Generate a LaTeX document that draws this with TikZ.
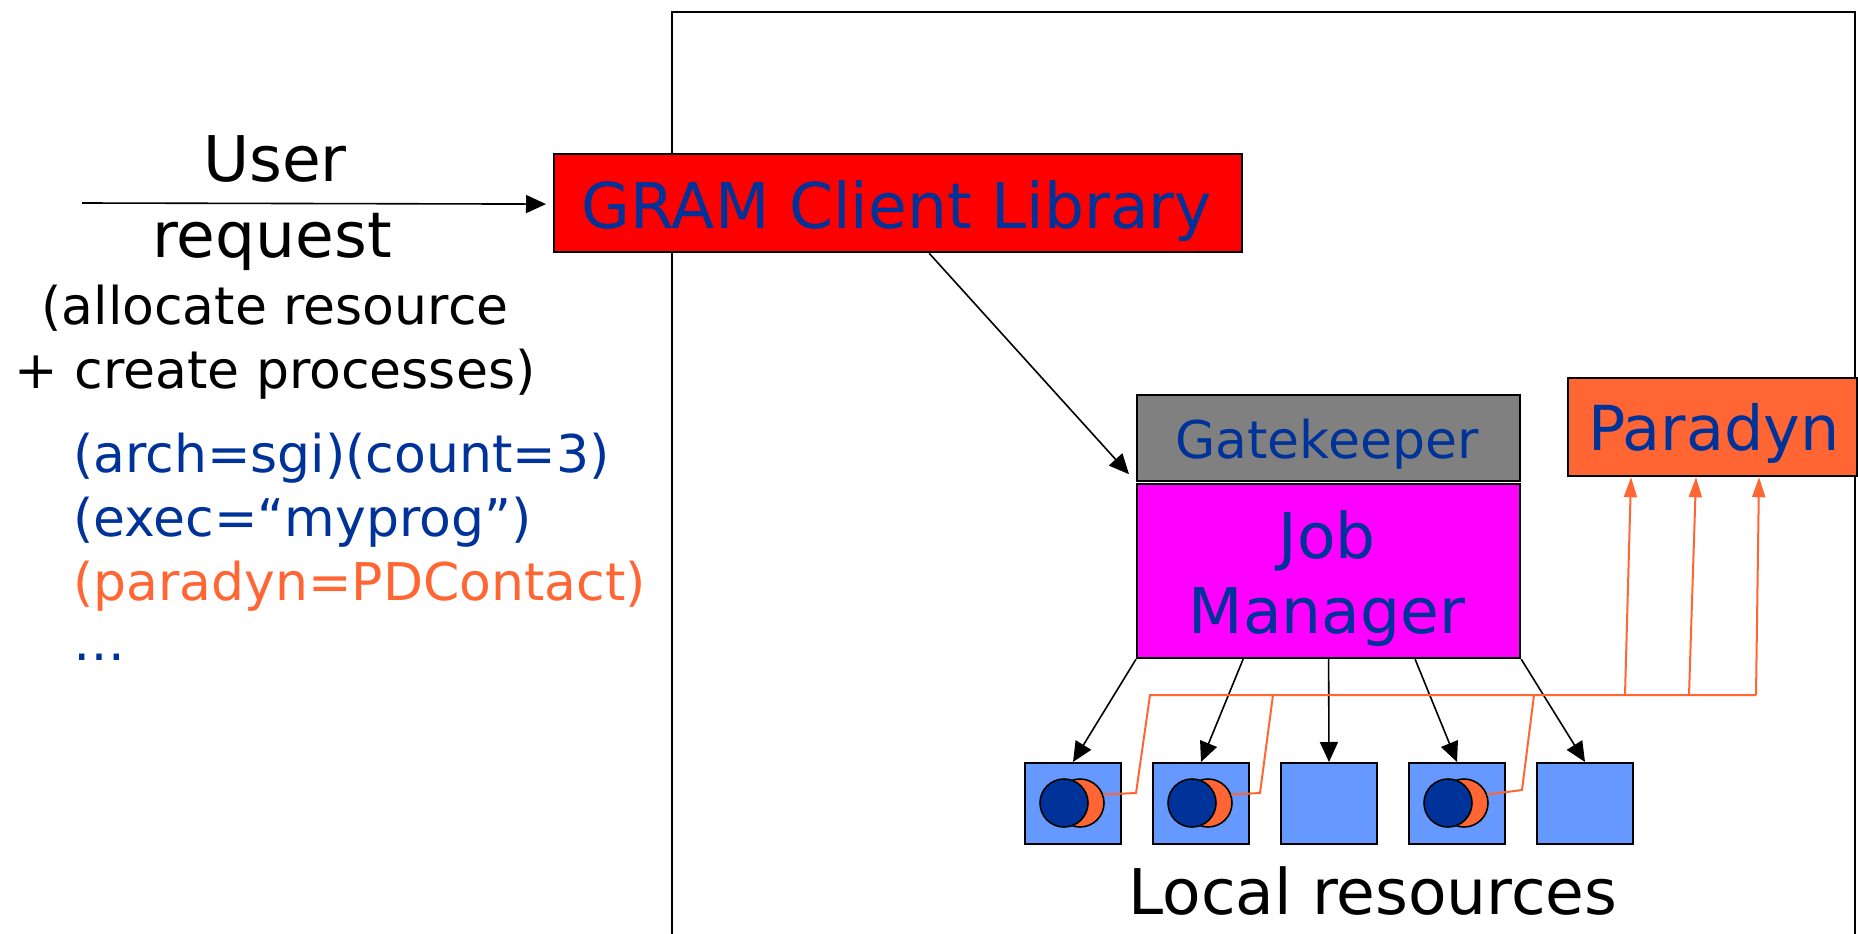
\documentclass[tikz,border=0pt]{standalone}
\usepackage{fontspec}
\setmainfont{DejaVu Sans}
\usetikzlibrary{arrows.meta,calc}
\definecolor{tblue}{HTML}{003399}
\definecolor{porange}{HTML}{FF6633}
\definecolor{sqblue}{HTML}{6699FF}
\definecolor{gkgray}{HTML}{808080}
\definecolor{jmmag}{HTML}{FF00FF}
\begin{document}
\begin{tikzpicture}[x=1pt,y=-1pt,
  box/.style={draw=black, line width=2.2pt, inner sep=0pt, anchor=north west},
  big/.style={font=\fontsize{63}{75}\selectfont, inner sep=0pt, anchor=base},
  mid/.style={font=\fontsize{52}{62}\selectfont, inner sep=0pt, anchor=base},
  conn/.style={line width=1.6pt, -{Triangle[length=20pt,width=18pt]}},
  pconn/.style={draw=porange, line width=2pt},
  parr/.style={pconn, -{Triangle[length=20pt,width=13pt]}},
  res/.style={box, fill=sqblue, line width=2pt, minimum width=96pt, minimum height=81pt},
  proc/.style={circle, draw=black, line width=1.6pt, minimum size=48pt, inner sep=0pt},
]
\useasboundingbox (0,0) rectangle (1858,934);
\fill[white] (0,0) rectangle (1858,934);
% enclosing site frame
\draw[line width=2pt] (672,934) -- (672,12) -- (1855,12) -- (1855,934);

% left request text
\node[big] (user) at (275,181) {User};
\node[big] (req) at (272,257) {request};
\node[mid] (alloc) at (275,324) {(allocate resource};
\node[mid] (create) at (275,388) {+ create processes)};
\node[mid, anchor=base west, text=tblue] (arch) at (73,472) {(arch=sgi)(count=3)};
\node[mid, anchor=base west, text=tblue] (exec) at (73,536) {(exec=“myprog”)};
\node[mid, anchor=base west, text=porange] (pdc) at (73,600) {(paradyn=PDContact)};
\node[mid, anchor=base west, text=tblue] (dots) at (73,660) {…};

% boxes
\node[box, fill=red, minimum width=688pt, minimum height=98pt] (gram) at (553,153) {};
\node[big, text=tblue] (gramt) at (897,228) {GRAM Client Library};
\node[box, fill=gkgray, minimum width=383pt, minimum height=86pt] (gk) at (1136,394) {};
\node[mid, text=tblue] (gkt) at (1327,458) {Gatekeeper};
\node[box, fill=jmmag, minimum width=383pt, minimum height=174pt] (jm) at (1136,483) {};
\node[big, text=tblue] (jmt1) at (1327,558) {Job};
\node[big, text=tblue] (jmt2) at (1327,633) {Manager};
\node[box, fill=porange, minimum width=289pt, minimum height=98pt] (pd) at (1567,377) {};
\node[big, font=\fontsize{62}{74}\selectfont, text=tblue] (pdt) at (1714,450) {Paradyn};

% local resources
\node[res] (s1) at (1024,762) {};
\node[res] (s2) at (1152,762) {};
\node[res] (s3) at (1280,762) {};
\node[res] (s4) at (1408,762) {};
\node[res] (s5) at (1536,762) {};
\node[big] (lr) at (1373,914) {Local resources};

% processes (paradyn daemon behind, app in front)
\node[proc, fill=porange] (o1) at (1080,803) {};
\node[proc, fill=tblue] (p1) at (1064,803) {};
\node[proc, fill=porange] (o2) at (1208,803) {};
\node[proc, fill=tblue] (p2) at (1192,803) {};
\node[proc, fill=porange] (o4) at (1464,803) {};
\node[proc, fill=tblue] (p4) at (1448,803) {};

% user request arrow
\coordinate (ustart) at (82,203);
\draw[conn] (ustart) -- ($(gram.west)+(-7,1)$);
% GRAM -> Gatekeeper
\draw[conn] ($(gram.south)+(31,0)$) -- ($(gk.south west)+(-7,-8)$);
% Job manager -> local resources
\draw[conn] (jm.south west) -- (s1.north);
\draw[conn] ($(jm.south)+(-85.5,0)$) -- (s2.north);
\draw[conn] (jm.south) -- (s3.north);
\draw[conn] ($(jm.south)+(86.5,0)$) -- (s4.north);
\draw[conn] (jm.south east) -- (s5.north);

% paradyn connections
\coordinate (b1) at (1150,695);
\coordinate (b2) at (1273,695);
\coordinate (b4) at (1534,695);
\coordinate (u1) at (1625,695);
\coordinate (u2) at (1689,695);
\coordinate (u3) at (1756,695);
\draw[pconn] (o1.20) -- (1136,793) -- (b1) -- (u3);
\draw[pconn] (o2.20) -- (1260,793) -- (b2);
\draw[pconn] (o4.20) -- (1522,790) -- (b4);
\draw[parr] (u1) -- ($(pd.south west)+(64,0)$);
\draw[parr] (u2) -- ($(pd.south west)+(129,0)$);
\draw[parr] (u3) -- ($(pd.south west)+(192,0)$);
\end{tikzpicture}
\end{document}
